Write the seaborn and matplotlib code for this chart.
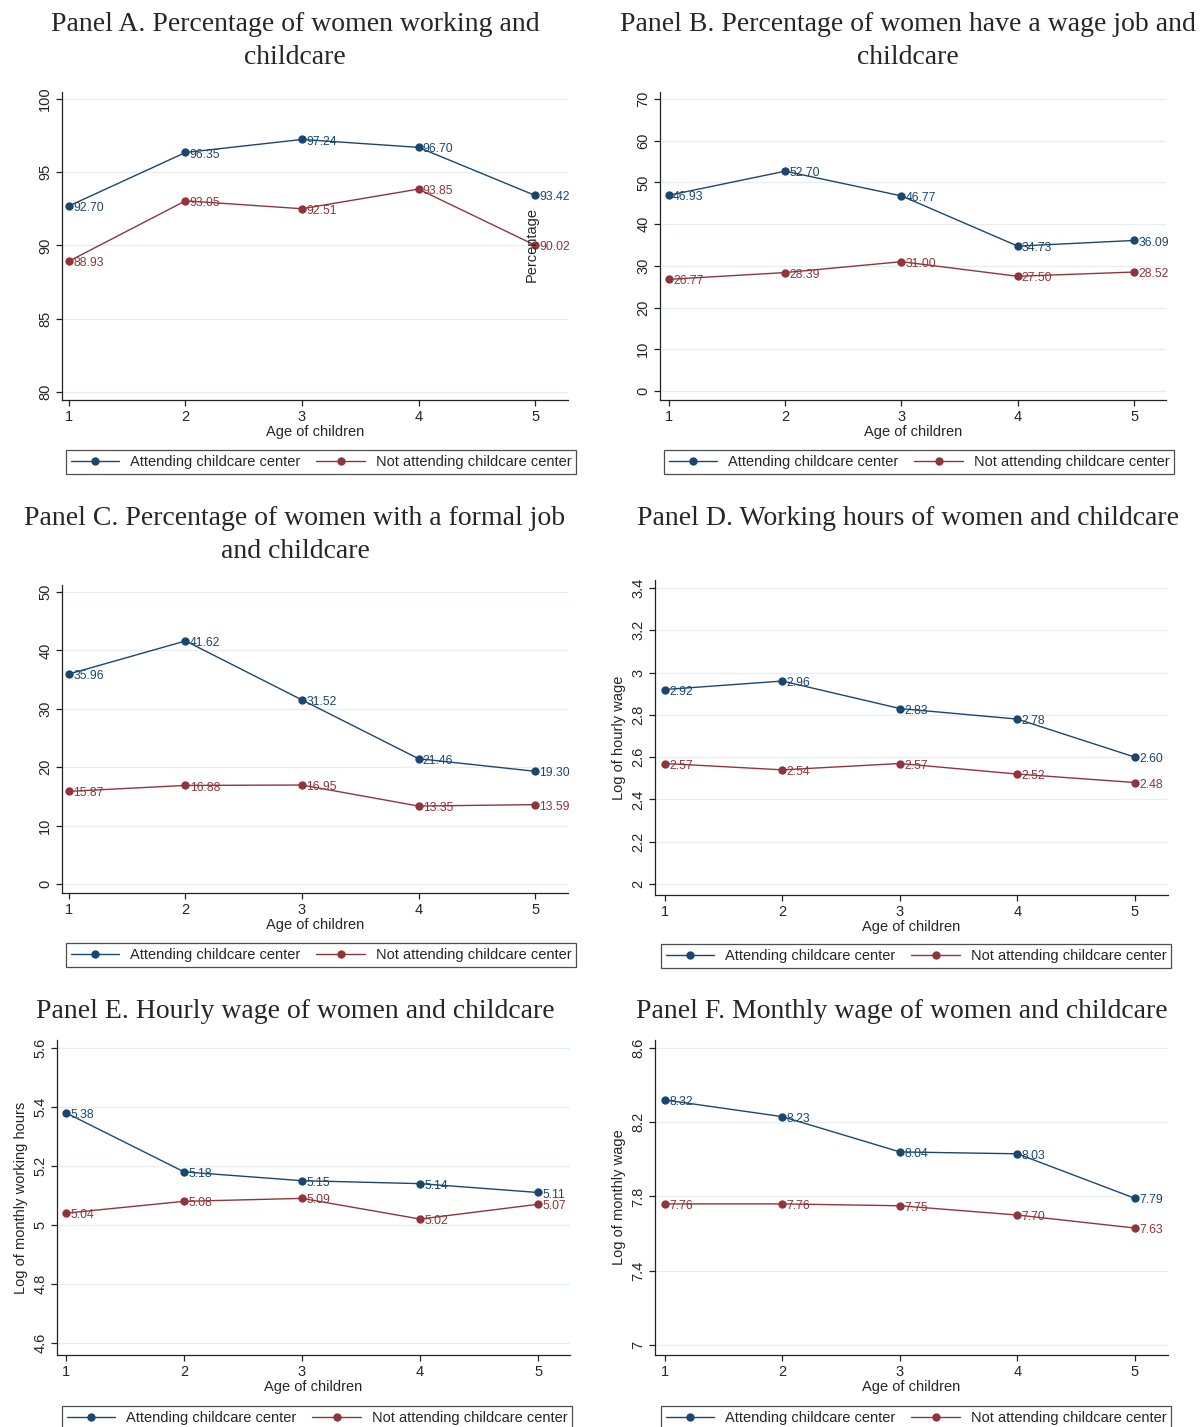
import pandas as pd
import seaborn as sns
import matplotlib.pyplot as plt
from matplotlib.lines import Line2D

# --- data ---
AGES = [1, 2, 3, 4, 5]
GROUPS = ['Attending childcare center', 'Not attending childcare center']

working_att = [92.70, 96.35, 97.24, 96.70, 93.42]
working_not = [88.93, 93.05, 92.51, 93.85, 90.02]

wagejob_att = [46.93, 52.70, 46.77, 34.73, 36.09]
wagejob_not = [26.77, 28.39, 31.00, 27.50, 28.52]

formal_att = [35.96, 41.62, 31.52, 21.46, 19.30]
formal_not = [15.87, 16.88, 16.95, 13.35, 13.59]

hourly_att = [2.92, 2.96, 2.83, 2.78, 2.60]
hourly_not = [2.57, 2.54, 2.57, 2.52, 2.48]

hours_att = [5.38, 5.18, 5.15, 5.14, 5.11]
hours_not = [5.04, 5.08, 5.09, 5.02, 5.07]

monthly_att = [8.32, 8.23, 8.04, 8.03, 7.79]
monthly_not = [7.76, 7.76, 7.75, 7.70, 7.63]

TITLES = [
    'Panel A. Percentage of women working and\nchildcare',
    'Panel B. Percentage of women have a wage job and\nchildcare',
    'Panel C. Percentage of women with a formal job\nand childcare',
    'Panel D. Working hours of women and childcare',
    'Panel E. Hourly wage of women and childcare',
    'Panel F. Monthly wage of women and childcare',
]
YLABELS = ['', '', '', 'Log of hourly wage', 'Log of monthly working hours', 'Log of monthly wage']
YTICKS = [
    [80, 85, 90, 95, 100],
    [0, 10, 20, 30, 40, 50, 60, 70],
    [0, 10, 20, 30, 40, 50],
    [2, 2.2, 2.4, 2.6, 2.8, 3, 3.2, 3.4],
    [4.6, 4.8, 5, 5.2, 5.4, 5.6],
    [7, 7.4, 7.8, 8.2, 8.6],
]
YTICKLABELS = [
    ['80', '85', '90', '95', '100'],
    ['0', '10', '20', '30', '40', '50', '60', '70'],
    ['0', '10', '20', '30', '40', '50'],
    ['2', '2.2', '2.4', '2.6', '2.8', '3', '3.2', '3.4'],
    ['4.6', '4.8', '5', '5.2', '5.4', '5.6'],
    ['7', '7.4', '7.8', '8.2', '8.6'],
]
SERIES = [
    (working_att, working_not),
    (wagejob_att, wagejob_not),
    (formal_att, formal_not),
    (hourly_att, hourly_not),
    (hours_att, hours_not),
    (monthly_att, monthly_not),
]

# --- layout (pixels) ---
W, H = 1200, 1427
AX_BOX = [(62, 568, 92, 400), (660, 1166, 92, 400),
          (62, 568, 585, 893), (655, 1168, 580, 895),
          (57, 570, 1040, 1355), (655, 1168, 1040, 1355)]
XLIMS = [(0.94, 5.283), (0.923, 5.275), (0.94, 5.283),
         (0.915, 5.281), (0.924, 5.271), (0.915, 5.281)]
YLIMS = [(79.45, 100.48), (-2.16, 71.68), (-1.54, 51.2),
         (1.948, 3.438), (4.559, 5.627), (6.946, 8.643)]
LEG_POS = [(66, 474), (664, 474), (66, 967), (661, 968), (62, 1430), (661, 1430)]
TITLE_POS = [(295, 41), (908, 41), (295, 535), (908, 519), (295, 1012), (902, 1012)]

COLORS = {'Attending childcare center': '#1a476f',
          'Not attending childcare center': '#90353b'}
GRID = '#e6eef0'

sns.set_theme(style='white')
plt.rcParams['font.family'] = ['Liberation Sans', 'DejaVu Sans']

fig = plt.figure(figsize=(W / 100, H / 100), dpi=100)

for i in range(6):
    l, r, t, b = AX_BOX[i]
    ax = fig.add_axes([l / W, 1 - b / H, (r - l) / W, (b - t) / H])
    att, nat = SERIES[i]
    df = pd.DataFrame({
        'age': AGES + AGES,
        'value': att + nat,
        'group': [GROUPS[0]] * 5 + [GROUPS[1]] * 5,
    })
    sns.lineplot(data=df, x='age', y='value', hue='group', hue_order=GROUPS,
                 palette=COLORS, marker='o', markersize=6, markeredgewidth=0,
                 linewidth=1.0, legend=False, ax=ax, zorder=3)
    for _, row in df.iterrows():
        ax.annotate(f"{row['value']:.2f}", (row['age'], row['value']),
                    xytext=(3, -1.5), textcoords='offset points',
                    ha='left', va='center', fontsize=8.8,
                    color=COLORS[row['group']], zorder=4)

    ax.set_xlim(*XLIMS[i])
    ax.set_ylim(*YLIMS[i])
    ax.set_xticks(AGES)
    ax.set_yticks(YTICKS[i])
    ax.set_yticklabels(YTICKLABELS[i], rotation=90, va='center')
    for y in YTICKS[i]:
        ax.axhline(y, color=GRID, linewidth=0.9, zorder=1)
    ax.tick_params(axis='both', direction='out', length=4, width=0.9,
                   color='#222222', labelsize=10.5, pad=3, left=True, bottom=True)
    for side in ['top', 'right']:
        ax.spines[side].set_visible(False)
    for side in ['left', 'bottom']:
        ax.spines[side].set_color('#222222')
        ax.spines[side].set_linewidth(0.9)
    ax.set_xlabel('Age of children', fontsize=10.5, labelpad=1)
    ax.set_ylabel(YLABELS[i], fontsize=10.5, labelpad=4)

    handles = [Line2D([], [], color=COLORS[g], marker='o', markersize=6,
                      markeredgewidth=0, linewidth=1.0) for g in GROUPS]
    lx, ly = LEG_POS[i]
    leg = ax.legend(handles, GROUPS, loc='lower left', ncol=2,
                    bbox_to_anchor=(lx / W, 1 - ly / H),
                    bbox_transform=fig.transFigure, borderaxespad=0,
                    frameon=True, fancybox=False, fontsize=10.5,
                    handlelength=3.3, handletextpad=0.75, borderpad=0.35,
                    columnspacing=1.1)
    leg.get_frame().set_edgecolor('#222222')
    leg.get_frame().set_linewidth(0.9)

    tx, ty = TITLE_POS[i]
    fig.text(tx / W, 1 - ty / H, TITLES[i], ha='center', va='center',
             fontsize=20, family=['Liberation Serif', 'DejaVu Serif'],
             linespacing=1.4)

# stray axis title from panel B
fig.text(532 / W, 1 - 245 / H, 'Percentage', rotation=90, ha='center',
         va='center', fontsize=10.5)

fig.savefig('out.png', dpi=100)
